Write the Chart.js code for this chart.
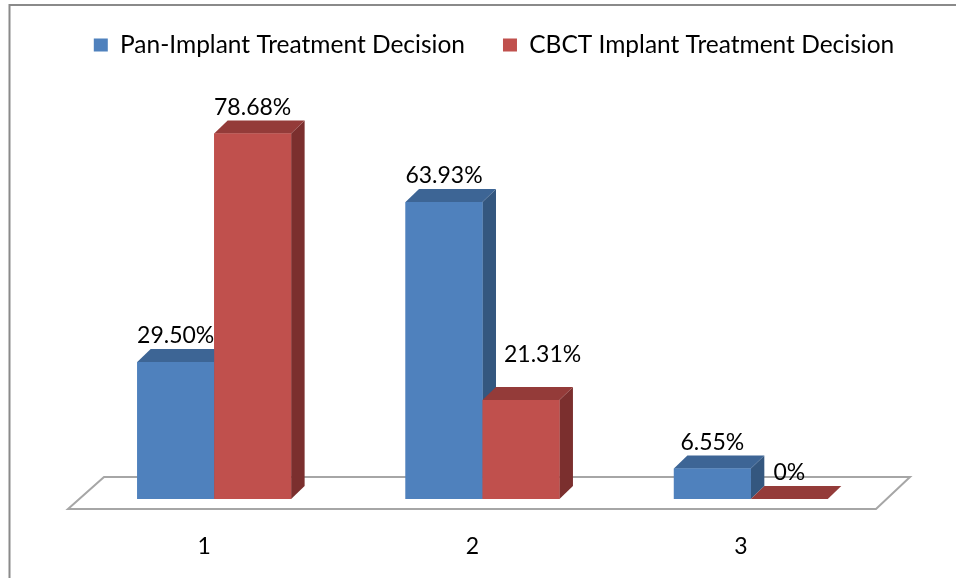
<!DOCTYPE html>
<html>
<head>
<meta charset="utf-8">
<script src="https://cdn.jsdelivr.net/npm/chart.js@4.4.1/dist/chart.umd.min.js"></script>
<style>
  html, body { margin: 0; padding: 0; background: #fff; }
  #graphCanvas { display: block; }
</style>
</head>
<body>
<canvas id="graphCanvas" width="956" height="578"></canvas>
<script>
// categories and series values (percent)
const categories = ['1', '2', '3'];
const panValues = [29.50, 63.93, 6.55];
const cbctValues = [78.68, 21.31, 0];
const seriesNames = ['Pan-Implant Treatment Decision', 'CBCT Implant Treatment Decision'];

const FONT = 'Lato';
const depthX = 13.5;  // 3d depth, pixels
const depthY = -13;

// front / top / side shades for each series
const shades = [
    { front: '#4f81bd', top: '#3d6595', side: '#34577f' },
    { front: '#c0504d', top: '#943b39', side: '#7b2f2e' }
];

function poly(ctx, pts, fill) {
    ctx.beginPath();
    ctx.moveTo(pts[0][0], pts[0][1]);
    for (let i = 1; i < pts.length; i++) ctx.lineTo(pts[i][0], pts[i][1]);
    ctx.closePath();
    ctx.fillStyle = fill;
    ctx.fill();
}

// frame round the picture and the floor under the bars
const floorPlugin = {
    id: 'floor',
    beforeDraw(chart) {
        let ctx = chart.ctx;
        ctx.save();
        ctx.strokeStyle = '#8a8a8a';
        ctx.lineWidth = 2;
        ctx.beginPath();
        ctx.moveTo(9.5, chart.height);
        ctx.lineTo(9.5, 5);
        ctx.lineTo(chart.width, 5);
        ctx.stroke();
        ctx.restore();
    },
    beforeDatasetsDraw(chart) {
        let ctx = chart.ctx;
        let a = chart.chartArea;
        let base = chart.scales.y.getPixelForValue(0);
        ctx.save();
        ctx.beginPath();
        ctx.moveTo(a.left - 12, base + 10);
        ctx.lineTo(a.left + 24, base - 22);
        ctx.lineTo(a.right + 25, base - 22);
        ctx.lineTo(a.right - 9, base + 10);
        ctx.closePath();
        ctx.fillStyle = '#fff';
        ctx.fill();
        ctx.strokeStyle = '#a6a6a6';
        ctx.lineWidth = 2;
        ctx.stroke();
        ctx.restore();
    }
};

// side and top faces of every bar, then the value labels
const bar3dPlugin = {
    id: 'bar3d',
    afterDatasetsDraw(chart) {
        let ctx = chart.ctx;
        ctx.save();
        for (let i = 0; i < categories.length; i++) {
            for (let d = 0; d < chart.data.datasets.length; d++) {
                let bar = chart.getDatasetMeta(d).data[i];
                let s = shades[d];
                let x0 = bar.x - bar.width / 2;
                let x1 = bar.x + bar.width / 2;
                let yt = bar.y;
                let yb = bar.base;
                poly(ctx, [[x1, yt], [x1 + depthX, yt + depthY], [x1 + depthX, yb + depthY], [x1, yb]], s.side);
                poly(ctx, [[x0, yt], [x1, yt], [x1 + depthX, yt + depthY], [x0 + depthX, yt + depthY]], s.top);
                if (yb - yt > 0) poly(ctx, [[x0, yt], [x1, yt], [x1, yb], [x0, yb]], s.front);
            }
        }

        ctx.font = '23px ' + FONT;
        ctx.fillStyle = '#000';
        ctx.textAlign = 'center';
        ctx.textBaseline = 'middle';
        for (let d = 0; d < chart.data.datasets.length; d++) {
            let values = chart.data.datasets[d].data;
            chart.getDatasetMeta(d).data.forEach((bar, i) => {
                let txt = (values[i] === 0 ? '0' : values[i].toFixed(2)) + '%';
                let w = ctx.measureText(txt).width;
                let cx = bar.x;
                let cy = bar.y - 26;
                // keep the label clear of a taller bar standing just left of it
                if (d > 0) {
                    let prev = chart.getDatasetMeta(d - 1).data[i];
                    let prevRight = prev.x + prev.width / 2 + depthX;
                    if (prev.y < cy + 12 && cx - w / 2 < prevRight + 4) {
                        cx = prevRight + 8 + w / 2;
                        cy = bar.y - 45;
                    }
                }
                ctx.fillText(txt, cx, cy);
            });
        }
        ctx.restore();
    }
};

let ctx = document.getElementById('graphCanvas').getContext('2d');
let chart = new Chart(ctx, {
    type: 'bar',
    data: {
        labels: categories,
        datasets: [{
            label: seriesNames[0],
            data: panValues,
            backgroundColor: shades[0].front,
            categoryPercentage: 0.5736,
            barPercentage: 1
        }, {
            label: seriesNames[1],
            data: cbctValues,
            backgroundColor: shades[1].front,
            categoryPercentage: 0.5736,
            barPercentage: 1
        }]
    },
    options: {
        responsive: false,
        maintainAspectRatio: false,
        animation: false,
        devicePixelRatio: 1,
        layout: { padding: { left: 32, right: 0, top: -5.25, bottom: 0 } },
        plugins: {
            legend: {
                position: 'top',
                labels: {
                    boxWidth: 14,
                    boxHeight: 13,
                    padding: 38,
                    color: '#000',
                    font: { family: FONT, size: 24.5 }
                }
            },
            tooltip: { enabled: false }
        },
        scales: {
            x: {
                grid: { display: false, drawTicks: false },
                border: { display: false },
                ticks: {
                    color: '#000',
                    font: { family: FONT, size: 23 },
                    padding: 34,
                    labelOffset: -10
                },
                afterFit: s => { s.height = 79; }
            },
            y: {
                position: 'left',
                min: 0,
                max: 92.95,
                grid: { display: false, drawTicks: false },
                border: { display: false },
                ticks: { display: false },
                afterFit: s => { s.width = 48; }
            },
            // empty axis that only keeps the right margin of the plot
            yRight: {
                position: 'right',
                grid: { display: false, drawTicks: false },
                border: { display: false },
                ticks: { display: false },
                afterFit: s => { s.width = 71; }
            }
        }
    },
    plugins: [floorPlugin, bar3dPlugin]
});
</script>
</body>
</html>
